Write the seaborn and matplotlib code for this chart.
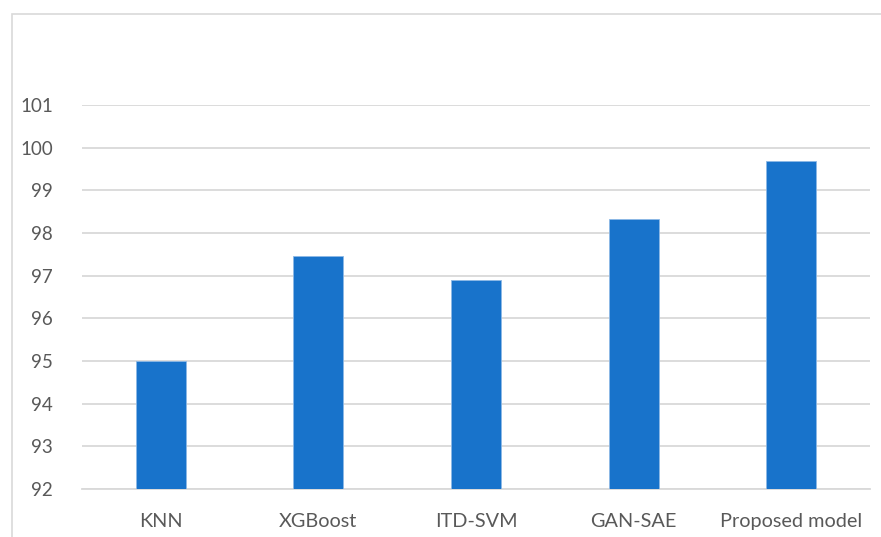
import matplotlib
matplotlib.use("Agg")
import matplotlib.pyplot as plt
import seaborn as sns
import pandas as pd
from matplotlib.patches import Rectangle

models = ["KNN", "XGBoost", "ITD-SVM", "GAN-SAE", "Proposed model"]
accuracy = [95.0, 97.45, 96.9, 98.33, 99.68]
y_ticks = [92, 93, 94, 95, 96, 97, 98, 99, 100, 101]

df = pd.DataFrame({"model": models, "accuracy": accuracy})

sns.set_theme(style="white")
plt.rcParams["font.family"] = ["Lato", "DejaVu Sans"]

W, H = 881, 537
fig = plt.figure(figsize=(W / 100, H / 100), dpi=100)
ax = fig.add_axes([82 / W, 1 - 489 / H, (870 - 82) / W, (489 - 105) / H])

sns.barplot(data=df, x="model", y="accuracy", color="#1873CB", saturation=1,
            width=0.317, edgecolor="#8DB8E6", linewidth=0.6, ax=ax, zorder=3)

ax.set_ylim(92, 101)
ax.set_yticks(y_ticks)
ax.set_xlim(-0.5, len(models) - 0.5)
ax.yaxis.grid(True, color="#D9D9D9", linewidth=1.3, zorder=0)
ax.xaxis.grid(False)
ax.set_axisbelow(True)
for side in ["left", "right", "top"]:
    ax.spines[side].set_visible(False)
ax.spines["bottom"].set_color("#D9D9D9")
ax.spines["bottom"].set_linewidth(1.3)
ax.set_xlabel("")
ax.set_ylabel("")
ax.tick_params(axis="y", length=0, pad=21, labelsize=13.5, labelcolor="#595959")
ax.tick_params(axis="x", length=0, pad=17, labelsize=14.3, labelcolor="#595959")

# chart-area border
fig.patches.append(Rectangle((12 / W, -0.1), 1.2, 1 - 14 / H + 0.1,
                             transform=fig.transFigure, fill=False,
                             edgecolor="#D9D9D9", linewidth=1.2))

fig.savefig("out.png", dpi=100, facecolor="white")
